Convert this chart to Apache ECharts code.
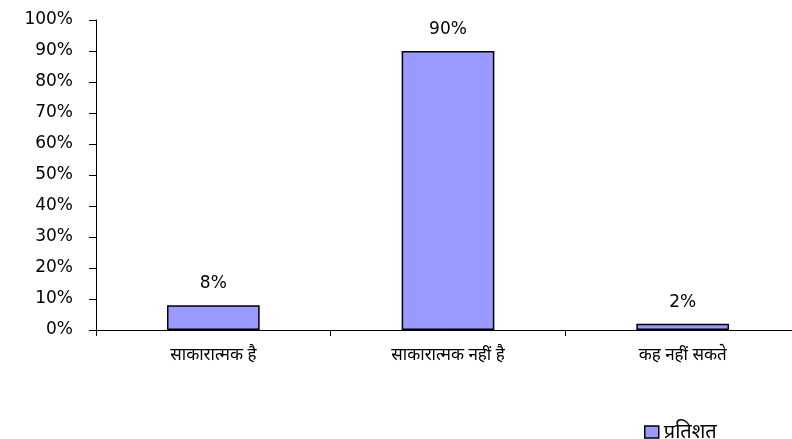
<!DOCTYPE html>
<html><head><meta charset="utf-8">
<script src="https://cdn.jsdelivr.net/npm/echarts@6/dist/echarts.min.js"></script>
<style>html,body{margin:0;padding:0;background:#fff}#c{width:792px;height:439px}</style>
</head><body><div id="c"></div>
<script>
const categories = ["साकारात्मक है", "साकारात्मक नहीं है", "कह नहीं सकते"];
const values = [8, 90, 2];
const seriesName = "प्रतिशत";
const yTicks = [0,10,20,30,40,50,60,70,80,90,100];

const chart = echarts.init(document.getElementById('c'));
chart.setOption({
  animation: false,
  backgroundColor: '#fff',
  grid: {left: 96, top: 20, bottom: 109, width: 704, outerBoundsMode: 'none', containLabel: false},
  legend: {
    data: [{name: seriesName, icon: 'rect'}], left: 639, top: 417, itemWidth: 14, itemHeight: 12, itemGap: 7,
    itemStyle: {borderColor: '#000', borderWidth: 1.5},
    textStyle: {fontSize: 20, color: '#000', fontFamily: 'Noto Sans, DejaVu Sans, sans-serif'}
  },
  xAxis: {
    type: 'category', data: categories,
    axisLine: {lineStyle: {color: '#000', width: 1}},
    axisTick: {show: true, length: 6, lineStyle: {color: '#000'}},
    axisLabel: {margin: 17, fontSize: 17, color: '#000', fontFamily: 'Noto Sans, DejaVu Sans, sans-serif'}
  },
  yAxis: {
    type: 'value', min: 0, max: 100, interval: 10,
    axisLine: {show: true, lineStyle: {color: '#000', width: 1}},
    axisTick: {show: true, length: 7, lineStyle: {color: '#000'}},
    splitLine: {show: false},
    axisLabel: {margin: 23, fontSize: 17, color: '#000', fontFamily: 'DejaVu Sans, Verdana, sans-serif', formatter: '{value}%'}
  },
  series: [{
    name: seriesName, type: 'bar', data: values, barWidth: '39.5%',
    itemStyle: {color: '#9999FF', borderColor: '#000', borderWidth: 1.5},
    label: {show: true, position: 'top', distance: 13, formatter: '{c}%', fontSize: 17, color: '#000', fontFamily: 'DejaVu Sans, Verdana, sans-serif'}
  }]
});
</script></body></html>
